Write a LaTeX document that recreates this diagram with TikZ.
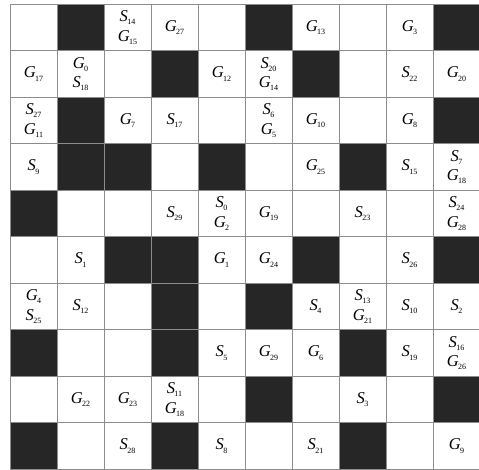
\documentclass[tikz,border=0pt]{standalone}
\usepackage{fontspec}
\setmainfont{Liberation Serif}
\newcommand\lb[2]{\textit{#1}\kern-0.6pt\raisebox{-3.2pt}{\fontsize{8}{8}\selectfont #2}}
\definecolor{gridgray}{HTML}{8C8C8C}
\definecolor{cellblack}{HTML}{262626}
\tikzset{
  lbl/.style={align=center, inner sep=0pt, font=\fontsize{16.5}{19.5}\selectfont},
  blk/.style={fill=cellblack, draw=none},
  gridln/.style={draw=gridgray, line width=0.9pt}
}
\begin{document}
\begin{tikzpicture}[x=1pt,y=-1pt]
\useasboundingbox (0,0) rectangle (479,470);
\fill[white] (0,0) rectangle (479,470);
\def\ox{10}\def\oy{4.3}\def\cw{47}\def\ch{46.5}
% black cells
\foreach \r/\c in {0/1,0/5,0/9,1/3,1/6,2/1,2/9,3/1,3/2,3/4,3/7,4/0,5/2,5/3,5/6,5/9,6/3,6/5,7/0,7/3,7/7,8/5,8/9,9/0,9/3,9/7}
  \path[blk] ({\ox+\cw*\c},{\oy+\ch*\r}) rectangle ({\ox+\cw*(\c+1)},{\oy+\ch*(\r+1)});
% grid
\foreach \i in {0,...,10} {
  \draw[gridln] ({\ox+\cw*\i},\oy) -- ({\ox+\cw*\i},{\oy+\ch*10});
  \draw[gridln] (\ox,{\oy+\ch*\i}) -- ({\ox+\cw*10},{\oy+\ch*\i});
}
% labels
\foreach \r/\c/\t in {
  0/2/{\lb S{14}\\\lb G{15}}, 0/3/{\lb G{27}}, 0/6/{\lb G{13}}, 0/8/{\lb G{3}},
  1/0/{\lb G{17}}, 1/1/{\lb G{0}\\\lb S{18}}, 1/4/{\lb G{12}}, 1/5/{\lb S{20}\\\lb G{14}}, 1/8/{\lb S{22}}, 1/9/{\lb G{20}},
  2/0/{\lb S{27}\\\lb G{11}}, 2/2/{\lb G{7}}, 2/3/{\lb S{17}}, 2/5/{\lb S{6}\\\lb G{5}}, 2/6/{\lb G{10}}, 2/8/{\lb G{8}},
  3/0/{\lb S{9}}, 3/6/{\lb G{25}}, 3/8/{\lb S{15}}, 3/9/{\lb S{7}\\\lb G{18}},
  4/3/{\lb S{29}}, 4/4/{\lb S{0}\\\lb G{2}}, 4/5/{\lb G{19}}, 4/7/{\lb S{23}}, 4/9/{\lb S{24}\\\lb G{28}},
  5/1/{\lb S{1}}, 5/4/{\lb G{1}}, 5/5/{\lb G{24}}, 5/8/{\lb S{26}},
  6/0/{\lb G{4}\\\lb S{25}}, 6/1/{\lb S{12}}, 6/6/{\lb S{4}}, 6/7/{\lb S{13}\\\lb G{21}}, 6/8/{\lb S{10}}, 6/9/{\lb S{2}},
  7/4/{\lb S{5}}, 7/5/{\lb G{29}}, 7/6/{\lb G{6}}, 7/8/{\lb S{19}}, 7/9/{\lb S{16}\\\lb G{26}},
  8/1/{\lb G{22}}, 8/2/{\lb G{23}}, 8/3/{\lb S{11}\\\lb G{18}}, 8/7/{\lb S{3}},
  9/2/{\lb S{28}}, 9/4/{\lb S{8}}, 9/6/{\lb S{21}}, 9/9/{\lb G{9}}}
  \node[lbl] (n-\r-\c) at ({\ox+\cw*(\c+0.5)},{\oy+\ch*(\r+0.5)}) {\t};
\end{tikzpicture}
\end{document}
